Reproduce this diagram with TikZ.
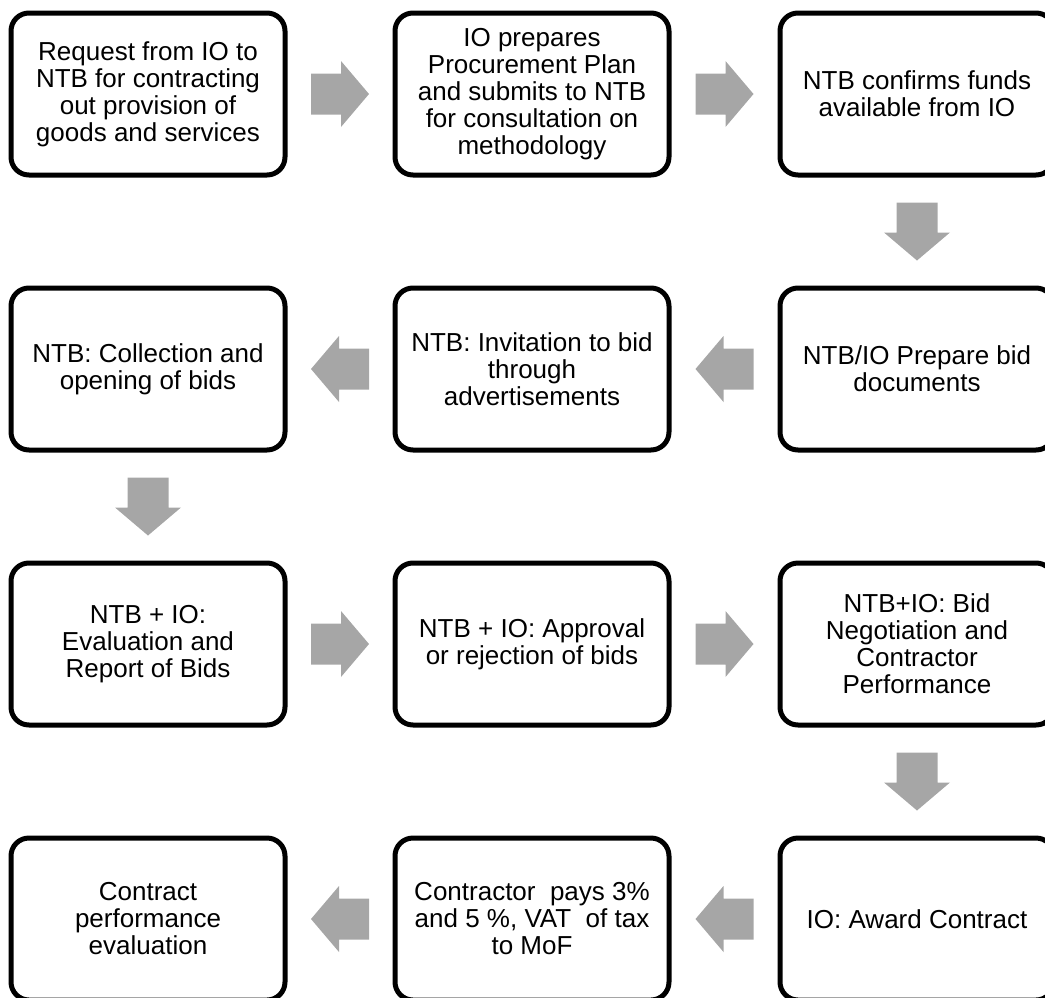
\documentclass[tikz,border=0pt]{standalone}
\usepackage{fontspec}
\setmainfont{Liberation Sans}
\usetikzlibrary{calc}
\definecolor{arrgray}{RGB}{166,166,166}
\tikzset{
  stepbox/.style={draw=black, line width=5pt, rounded corners=18pt,
    minimum width=274pt, minimum height=162pt, align=center, inner sep=0pt,
    font=\fontsize{26}{27}\selectfont},
  blockarr/.pic={\fill[arrgray] (-29,-20.5) -- (1,-20.5) -- (1,-33) -- (29,0)
    -- (1,33) -- (1,20.5) -- (-29,20.5) -- cycle;}
}
\begin{document}
\begin{tikzpicture}[x=1pt,y=1pt]
\useasboundingbox (0,0) rectangle (1045,-997);
\clip (0,0) rectangle (1045,-997);
% row 1
\node[stepbox] (b1) at (148,-94) {Request from IO to\\NTB for contracting\\out provision of\\goods and services};
\node[stepbox] (b2) at (532,-94) {IO prepares\\Procurement Plan\\and submits to NTB\\for consultation on\\methodology};
\node[stepbox] (b3) at (917,-94) {NTB confirms funds\\available from IO};
% row 2
\node[stepbox] (b4) at (917,-369) {NTB/IO Prepare bid\\documents};
\node[stepbox] (b5) at (532,-369) {NTB: Invitation to bid\\through\\advertisements};
\node[stepbox] (b6) at (148,-369) {NTB: Collection and\\opening of bids};
% row 3
\node[stepbox] (b7) at (148,-644) {NTB + IO:\\Evaluation and\\Report of Bids};
\node[stepbox] (b8) at (532,-644) {NTB + IO: Approval\\or rejection of bids};
\node[stepbox] (b9) at (917,-644) {NTB+IO: Bid\\Negotiation and\\Contractor\\Performance};
% row 4
\node[stepbox] (b10) at (917,-919) {IO: Award Contract};
\node[stepbox] (b11) at (532,-919) {Contractor~ pays 3\%\\and 5 \%, VAT~ of tax\\to MoF};
\node[stepbox] (b12) at (148,-919) {Contract\\performance\\evaluation};
% arrows
\pic at ($(b1.east)!0.5!(b2.west)$) {blockarr};
\pic at ($(b2.east)!0.5!(b3.west)$) {blockarr};
\pic[rotate=-90] at ($(b3.south)!0.5!(b4.north)$) {blockarr};
\pic[rotate=180] at ($(b4.west)!0.5!(b5.east)$) {blockarr};
\pic[rotate=180] at ($(b5.west)!0.5!(b6.east)$) {blockarr};
\pic[rotate=-90] at ($(b6.south)!0.5!(b7.north)$) {blockarr};
\pic at ($(b7.east)!0.5!(b8.west)$) {blockarr};
\pic at ($(b8.east)!0.5!(b9.west)$) {blockarr};
\pic[rotate=-90] at ($(b9.south)!0.5!(b10.north)$) {blockarr};
\pic[rotate=180] at ($(b10.west)!0.5!(b11.east)$) {blockarr};
\pic[rotate=180] at ($(b11.west)!0.5!(b12.east)$) {blockarr};
\end{tikzpicture}
\end{document}
